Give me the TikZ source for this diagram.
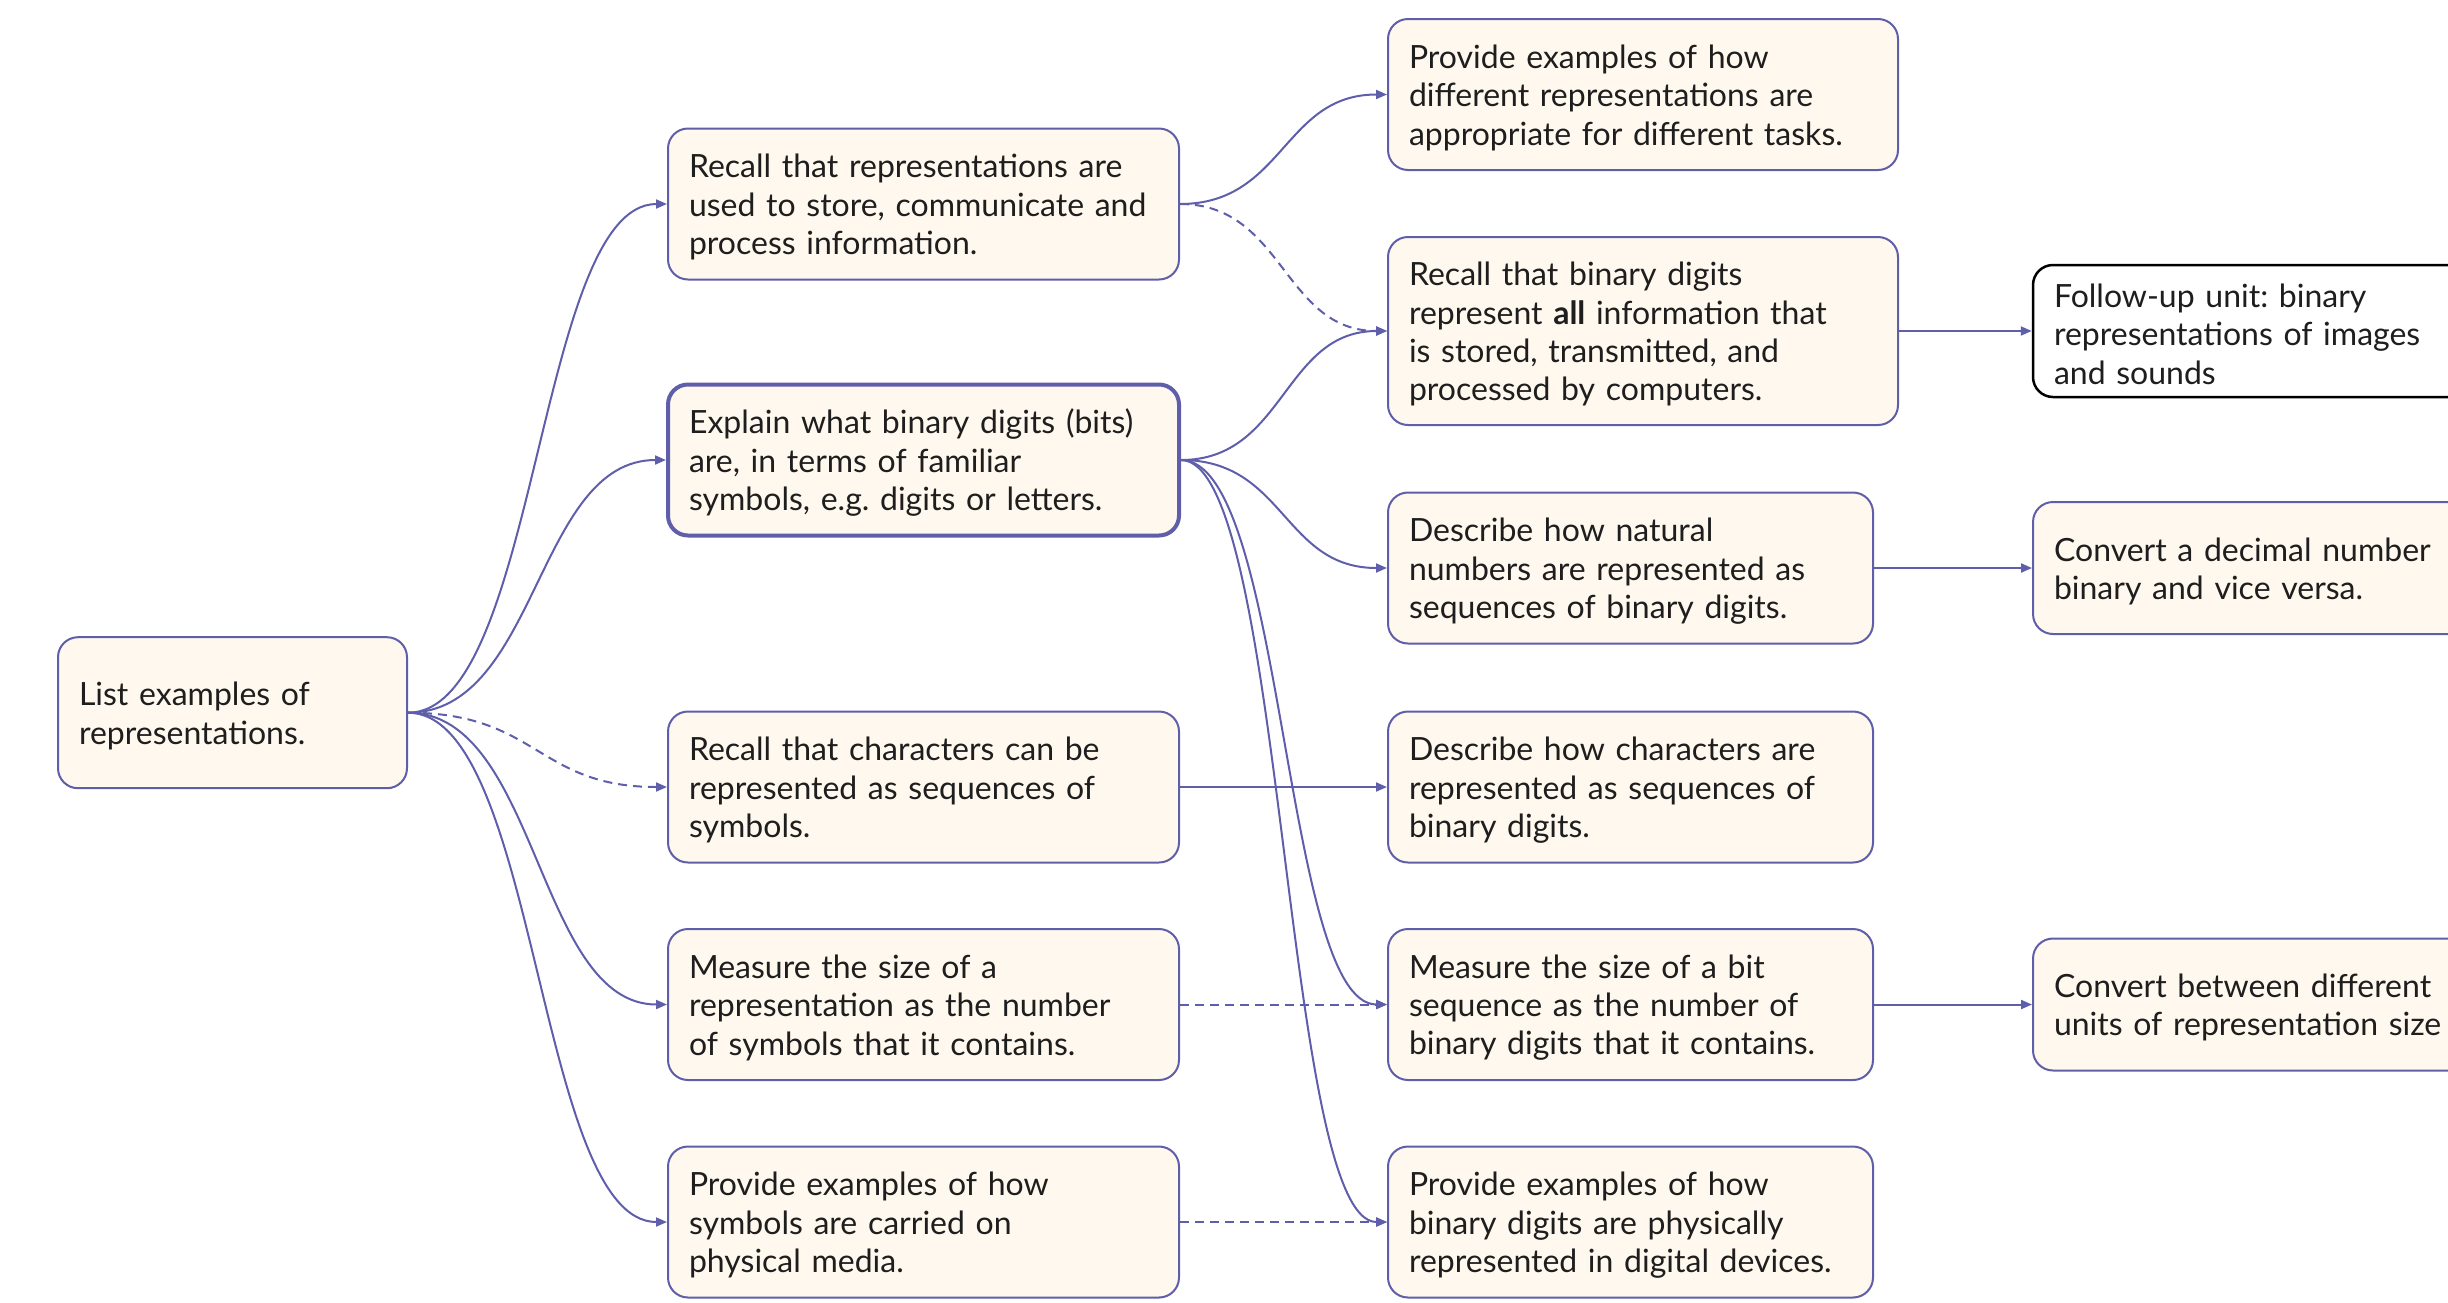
\documentclass[tikz,border=0pt]{standalone}
\usepackage{fontspec}
\setmainfont{Lato}
\usetikzlibrary{arrows.meta}
\definecolor{edge}{RGB}{94,94,170}
\definecolor{cream}{RGB}{255,248,238}
\definecolor{ink}{RGB}{30,30,30}
\frenchspacing
\begin{document}
\begin{tikzpicture}[x=1pt,y=-1pt,
 box/.style={draw=edge, fill=cream, line width=2pt, rounded corners=20pt, inner xsep=21pt, inner ysep=0pt, align=left, text=ink, font=\fontsize{32}{38.3}\selectfont, text height=30pt, anchor=center},
 colA/.style={box, text width=469pt, minimum width=511pt, minimum height=151pt},
 colBw/.style={box, text width=468pt, minimum width=510pt, minimum height=151pt},
 colBn/.style={box, text width=443pt, minimum width=485pt, minimum height=151pt},
 colC/.style={box, text width=478pt, minimum width=520pt, minimum height=132pt},
 conn/.style={draw=edge, line width=2pt, -{Triangle[length=11pt,width=9pt]}},
 dconn/.style={conn, dash pattern=on 9pt off 6pt}]
\useasboundingbox (0,0) rectangle (2448,1302);
\clip (0,0) rectangle (2448,1302);

\node[box, text width=307pt, minimum width=349pt, minimum height=151pt] (L0) at (232.5,712.7) {List examples of\\representations.};

\node[colA] (A1) at (923.5,204) {Recall that representations are\\used to store, communicate and\\process information.};
\node[colA, line width=4pt] (A2) at (923.5,460) {Explain what binary digits (bits)\\are, in terms of familiar\\symbols, e.g. digits or letters.};
\node[colA] (A3) at (923.5,787) {Recall that characters can be\\represented as sequences of\\symbols.};
\node[colA] (A4) at (923.5,1004.5) {Measure the size of a\\representation as the number\\of symbols that it contains.};
\node[colA] (A5) at (923.5,1222) {Provide examples of how\\symbols are carried on\\physical media.};

\node[colBw] (B1) at (1643,94.5) {Provide examples of how\\different representations are\\appropriate for different tasks.};
\node[colBw, minimum height=188pt] (B2) at (1643,331) {Recall that binary digits\\represent \textbf{all} information that\\is stored, transmitted, and\\processed by computers.};
\node[colBn] (B3) at (1630.5,568) {Describe how natural\\numbers are represented as\\sequences of binary digits.};
\node[colBn] (B4) at (1630.5,787) {Describe how characters are\\represented as sequences of\\binary digits.};
\node[colBn] (B5) at (1630.5,1004.5) {Measure the size of a bit\\sequence as the number of\\binary digits that it contains.};
\node[colBn] (B6) at (1630.5,1222) {Provide examples of how\\binary digits are physically\\represented in digital devices.};

\node[colC, draw=black, fill=white, line width=2.5pt] (C1) at (2293,331) {Follow-up unit: binary\\representations of images\\and sounds};
\node[colC] (C2) at (2293,568) {Convert a decimal number\\binary and vice versa.};
\node[colC] (C3) at (2293,1004.5) {Convert between different\\units of representation size};

% from L0
\draw[conn] (L0.east) .. controls +(130,0) and +(-130,0) .. (A1.west);
\draw[conn] (L0.east) .. controls +(130,0) and +(-130,0) .. (A2.west);
\draw[dconn] (L0.east) .. controls +(130,0) and +(-130,0) .. (A3.west);
\draw[conn] (L0.east) .. controls +(130,0) and +(-130,0) .. (A4.west);
\draw[conn] (L0.east) .. controls +(130,0) and +(-130,0) .. (A5.west);

% from A1
\draw[conn] (A1.east) .. controls +(104,0) and +(-104,0) .. (B1.west);
\draw[dconn] (A1.east) .. controls +(104,0) and +(-104,0) .. (B2.west);

% from A2
\draw[conn] (A2.east) .. controls +(104,0) and +(-104,0) .. (B2.west);
\draw[conn] (A2.east) .. controls +(104,0) and +(-104,0) .. (B3.west);
\draw[conn] (A2.east) .. controls +(104,0) and +(-104,0) .. (B5.west);
\draw[conn] (A2.east) .. controls +(104,0) and +(-104,0) .. (B6.west);

% straight
\draw[conn] (A3.east) -- (B4.west);
\draw[dconn] (A4.east) -- (B5.west);
\draw[dconn] (A5.east) -- (B6.west);
\draw[conn] (B2.east) -- (C1.west);
\draw[conn] (B3.east) -- (C2.west);
\draw[conn] (B5.east) -- (C3.west);
\end{tikzpicture}
\end{document}
